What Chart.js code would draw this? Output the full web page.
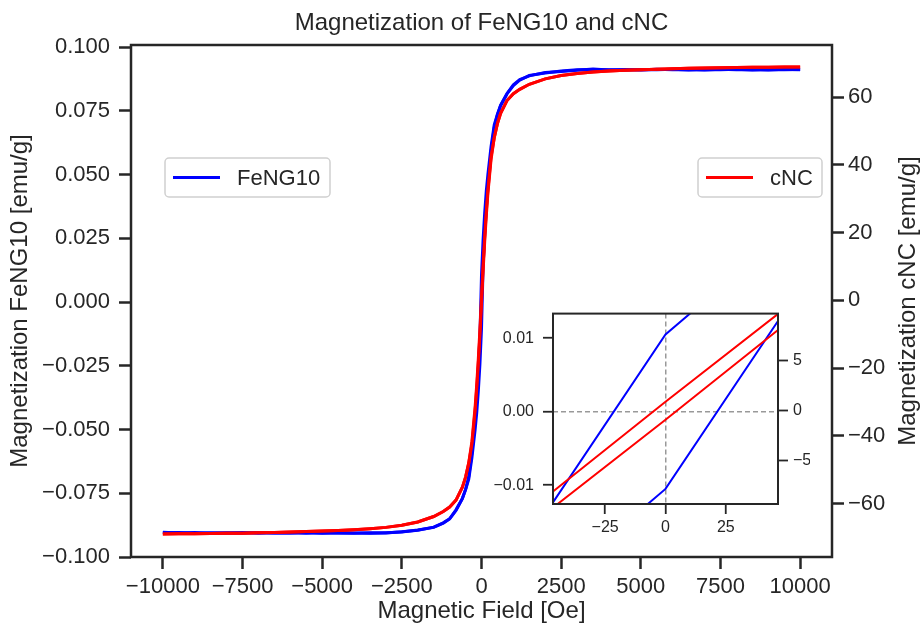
<!DOCTYPE html>
<html>
<head>
<meta charset="utf-8">
<script src="https://cdn.jsdelivr.net/npm/chart.js@4.4.0/dist/chart.umd.min.js"></script>
<style>
  body { margin: 0; background: #fff; }
  #wrap { position: relative; width: 922px; height: 628px; }
  #chartMain { display: block; }
  #chartInset { position: absolute; left: 490px; top: 295px; }
</style>
</head>
<body>
<div id="wrap">
  <canvas id="chartMain" width="922" height="628"></canvas>
  <canvas id="chartInset" width="320" height="250"></canvas>
</div>
<script>
// magnetic field [Oe], shared by every branch
const field = [-10000, -9500, -9000, -8500, -8000, -7500, -7000, -6500, -6000, -5500,
  -5000, -4500, -4000, -3500, -3000, -2500, -2000, -1500, -1200, -1000,
  -800, -600, -500, -400, -300, -200, -150, -100, -50, 0,
  50, 100, 150, 200, 300, 400, 500, 600, 800, 1000,
  1200, 1500, 2000, 2500, 3000, 3500, 4000, 4500, 5000, 5500,
  6000, 6500, 7000, 7500, 8000, 8500, 9000, 9500, 10000];

// FeNG10 [emu/g], field sweeping down / up
const fengDown = [-0.0903, -0.0906, -0.0904, -0.0907, -0.0905, -0.0906, -0.0904, -0.0906, -0.0905, -0.0907,
  -0.0905, -0.0906, -0.0907, -0.0905, -0.0906, -0.0901, -0.0895, -0.0883, -0.0866, -0.0850,
  -0.0815, -0.0770, -0.0735, -0.0685, -0.0590, -0.0450, -0.0365, -0.0265, -0.0140, 0.0105,
  0.0245, 0.0350, 0.0435, 0.0500, 0.0610, 0.0695, 0.0737, 0.0772, 0.0818, 0.0852,
  0.0872, 0.0887, 0.0900, 0.0904, 0.0909, 0.0914, 0.0910, 0.0912, 0.0910, 0.0913,
  0.0911, 0.0912, 0.0910, 0.0913, 0.0911, 0.0912, 0.0910, 0.0913, 0.0911];
const fengUp = [-0.0905, -0.0904, -0.0907, -0.0905, -0.0906, -0.0904, -0.0907, -0.0905, -0.0906, -0.0904,
  -0.0907, -0.0905, -0.0906, -0.0907, -0.0905, -0.0902, -0.0894, -0.0884, -0.0867, -0.0851,
  -0.0817, -0.0771, -0.0736, -0.0695, -0.0610, -0.0500, -0.0435, -0.0350, -0.0245, -0.0105,
  0.0140, 0.0265, 0.0365, 0.0450, 0.0590, 0.0685, 0.0735, 0.0770, 0.0816, 0.0849,
  0.0870, 0.0889, 0.0898, 0.0906, 0.0911, 0.0912, 0.0911, 0.0910, 0.0912, 0.0911,
  0.0913, 0.0910, 0.0912, 0.0911, 0.0913, 0.0910, 0.0912, 0.0911, 0.0912];

// cNC [emu/g], field sweeping down / up
const cncDown = [-69.0, -68.97, -68.93, -68.88, -68.82, -68.75, -68.66, -68.55, -68.45, -68.3,
  -68.15, -67.98, -67.75, -67.45, -67.05, -66.45, -65.45, -63.85, -62.35, -61.05,
  -59.0, -55.2, -52.2, -48.0, -41.6, -31.5, -24.9, -17.3, -8.7, 0.9,
  10.3, 18.7, 26.1, 32.5, 42.4, 48.0, 52.2, 55.2, 59.0, 61.0,
  62.3, 63.8, 65.4, 66.4, 67.0, 67.4, 67.7, 67.95, 68.1, 68.25,
  68.4, 68.5, 68.6, 68.7, 68.75, 68.8, 68.85, 68.88, 68.9];
const cncUp = [-69.0, -68.97, -68.93, -68.88, -68.82, -68.75, -68.66, -68.55, -68.45, -68.3,
  -68.15, -67.98, -67.75, -67.45, -67.05, -66.45, -65.45, -63.85, -62.35, -61.05,
  -59.0, -55.2, -52.2, -48.0, -42.4, -32.5, -26.1, -18.7, -10.3, -0.9,
  8.7, 17.3, 24.9, 31.5, 41.6, 48.0, 52.2, 55.2, 59.0, 61.0,
  62.3, 63.8, 65.4, 66.4, 67.0, 67.4, 67.7, 67.95, 68.1, 68.25,
  68.4, 68.5, 68.6, 68.7, 68.75, 68.8, 68.85, 68.88, 68.9];

// tick labels
const xTicks = [-10000, -7500, -5000, -2500, 0, 2500, 5000, 7500, 10000];
const leftTicks = [-0.1, -0.075, -0.05, -0.025, 0, 0.025, 0.05, 0.075, 0.1];
const rightTicks = [-60, -40, -20, 0, 20, 40, 60];
const insetXTicks = [-25, 0, 25];
const insetLeftTicks = [-0.01, 0, 0.01];
const insetRightTicks = [-5, 0, 5];

const ink = '#262626';
Chart.defaults.font.family = "'Liberation Sans', Arial, sans-serif";
Chart.defaults.color = ink;

const fmt = (v, d) => (v < 0 ? '\u2212' : '') + Math.abs(v).toFixed(d);
const points = ys => field.map((x, i) => ({x: x, y: ys[i]}));
const fixTicks = list => scale => { scale.ticks = list.map(v => ({value: v})); };

function tickGrid(len, w) {
  return {display: true, drawOnChartArea: false, drawTicks: true,
    tickLength: len, tickWidth: w, tickColor: ink};
}

function drawLegendBox(ctx, x, y, w, h, color, label) {
  ctx.save();
  ctx.beginPath();
  ctx.roundRect(x, y, w, h, 4);
  ctx.fillStyle = 'rgba(255,255,255,0.8)';
  ctx.fill();
  ctx.strokeStyle = '#d0d0d0';
  ctx.lineWidth = 1.5;
  ctx.stroke();
  ctx.beginPath();
  ctx.moveTo(x + 8, y + h / 2);
  ctx.lineTo(x + 55, y + h / 2);
  ctx.strokeStyle = color;
  ctx.lineWidth = 3;
  ctx.stroke();
  ctx.fillStyle = ink;
  ctx.font = "22px 'Liberation Sans', Arial, sans-serif";
  ctx.textBaseline = 'middle';
  ctx.fillText(label, x + 72, y + h / 2 + 1);
  ctx.restore();
}

const mainDecor = {
  id: 'mainDecor',
  afterDatasetsDraw(chart) {
    const {ctx, chartArea: a} = chart;
    ctx.save();
    ctx.strokeStyle = ink;
    ctx.lineWidth = 2.5;
    ctx.strokeRect(a.left, a.top, a.right - a.left, a.bottom - a.top);
    ctx.restore();
  },
  afterDraw(chart) {
    const {ctx, chartArea: a} = chart;
    drawLegendBox(ctx, a.left + 34, a.top + 113, 165, 39, '#0000ff', 'FeNG10');
    drawLegendBox(ctx, a.right - 134, a.top + 113, 124, 39, '#ff0000', 'cNC');
    // right axis title, reading bottom to top like the left one
    ctx.save();
    ctx.translate(908, (a.top + a.bottom) / 2);
    ctx.rotate(-Math.PI / 2);
    ctx.fillStyle = ink;
    ctx.font = "24px 'Liberation Sans', Arial, sans-serif";
    ctx.textAlign = 'center';
    ctx.textBaseline = 'middle';
    ctx.fillText('Magnetization cNC [emu/g]', 0, 0);
    ctx.restore();
  }
};

const insetDecor = {
  id: 'insetDecor',
  beforeDraw(chart) {
    const {ctx, chartArea: a} = chart;
    ctx.save();
    ctx.fillStyle = '#ffffff';
    ctx.fillRect(a.left, a.top, a.right - a.left, a.bottom - a.top);
    ctx.restore();
  },
  afterDatasetsDraw(chart) {
    const {ctx, chartArea: a} = chart;
    ctx.save();
    ctx.strokeStyle = ink;
    ctx.lineWidth = 2;
    ctx.strokeRect(a.left, a.top, a.right - a.left, a.bottom - a.top);
    ctx.restore();
  }
};

function makeDatasets(width) {
  return [
    {label: 'FeNG10', data: points(fengDown), yAxisID: 'yL', borderColor: '#0000ff', borderWidth: width, order: 2},
    {label: 'FeNG10', data: points(fengUp), yAxisID: 'yL', borderColor: '#0000ff', borderWidth: width, order: 2},
    {label: 'cNC', data: points(cncDown), yAxisID: 'yR', borderColor: '#ff0000', borderWidth: width, order: 1},
    {label: 'cNC', data: points(cncUp), yAxisID: 'yR', borderColor: '#ff0000', borderWidth: width, order: 1}
  ];
}

new Chart(document.getElementById('chartMain'), {
  type: 'line',
  data: {datasets: makeDatasets(3)},
  options: {
    responsive: false,
    animation: false,
    elements: {point: {radius: 0}, line: {tension: 0}},
    layout: {padding: 0},
    plugins: {
      legend: {display: false},
      tooltip: {enabled: false},
      title: {display: true, text: 'Magnetization of FeNG10 and cNC', fullSize: false,
        color: ink, font: {size: 24, weight: 'normal'}, padding: {top: 9, bottom: 7.2}}
    },
    scales: {
      x: {
        type: 'linear', min: -11000, max: 11000,
        afterBuildTicks: fixTicks(xTicks),
        afterFit: s => { s.height = 71; },
        grid: tickGrid(12, 2.5),
        border: {display: false},
        ticks: {font: {size: 22}, padding: 5, autoSkip: false, maxRotation: 0, minRotation: 0,
          callback: v => fmt(v, 0)},
        title: {display: true, text: 'Magnetic Field [Oe]', font: {size: 24}, padding: {top: 0, bottom: 2}}
      },
      yL: {
        type: 'linear', position: 'left', min: -0.1, max: 0.1008,
        afterBuildTicks: fixTicks(leftTicks),
        afterFit: s => { s.width = 131; },
        grid: tickGrid(12, 2.5),
        border: {display: false},
        ticks: {font: {size: 22}, padding: 9, autoSkip: false, callback: v => fmt(v, 3)},
        title: {display: true, text: 'Magnetization FeNG10 [emu/g]', font: {size: 24}, padding: {top: 6, bottom: 0}}
      },
      yR: {
        type: 'linear', position: 'right', min: -75.8, max: 75.4,
        afterBuildTicks: fixTicks(rightTicks),
        afterFit: s => { s.width = 90; },
        grid: tickGrid(12, 2.5),
        border: {display: false},
        ticks: {font: {size: 22}, padding: 4, autoSkip: false, callback: v => fmt(v, 0)}
      }
    }
  },
  plugins: [mainDecor]
});

new Chart(document.getElementById('chartInset'), {
  type: 'line',
  data: {datasets: makeDatasets(2)},
  options: {
    responsive: false,
    animation: false,
    elements: {point: {radius: 0}, line: {tension: 0}},
    layout: {padding: {top: 10, left: 0, right: 0, bottom: 0}},
    plugins: {legend: {display: false}, tooltip: {enabled: false}},
    scales: {
      x: {
        type: 'linear', min: -46.6, max: 46.6,
        afterBuildTicks: fixTicks(insetXTicks),
        afterFit: s => { s.height = 41; },
        grid: {display: true, drawOnChartArea: true, drawTicks: true, tickLength: 10, tickWidth: 1.8,
          tickColor: ink, lineWidth: 1.5,
          color: c => (c.tick && c.tick.value === 0 ? '#999999' : 'rgba(0,0,0,0)')},
        border: {display: false, dash: [5, 3]},
        ticks: {font: {size: 16}, padding: 4, autoSkip: false, maxRotation: 0, callback: v => fmt(v, 0)}
      },
      yL: {
        type: 'linear', position: 'left', min: -0.01255, max: 0.01334,
        afterBuildTicks: fixTicks(insetLeftTicks),
        afterFit: s => { s.width = 63; },
        grid: {display: true, drawOnChartArea: true, drawTicks: true, tickLength: 10, tickWidth: 1.8,
          tickColor: ink, lineWidth: 1.5,
          color: c => (c.tick && c.tick.value === 0 ? '#999999' : 'rgba(0,0,0,0)')},
        border: {display: false, dash: [5, 3]},
        ticks: {font: {size: 16}, padding: 9, autoSkip: false, callback: v => fmt(v, 2)}
      },
      yR: {
        type: 'linear', position: 'right', min: -9.3, max: 9.69,
        afterBuildTicks: fixTicks(insetRightTicks),
        afterFit: s => { s.width = 32; },
        grid: tickGrid(10, 1.8),
        border: {display: false},
        ticks: {font: {size: 16}, padding: 5, autoSkip: false, callback: v => fmt(v, 0)}
      }
    }
  },
  plugins: [insetDecor]
});
</script>
</body>
</html>
